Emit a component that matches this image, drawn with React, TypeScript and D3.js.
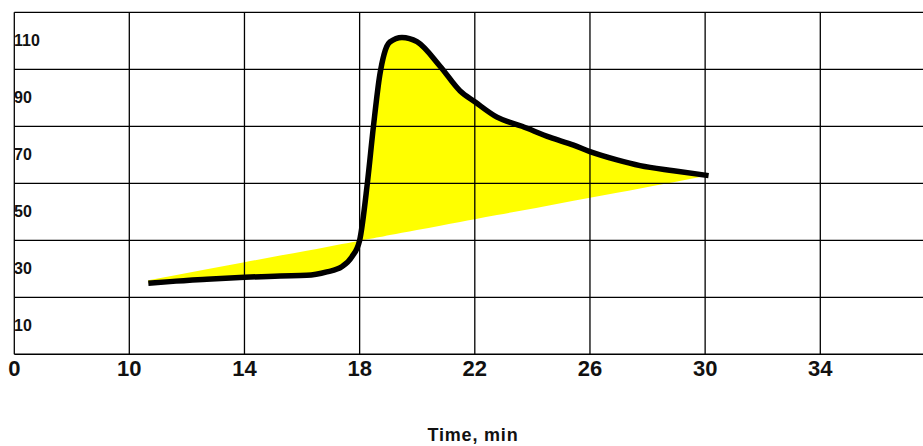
import React from "react";
import * as d3 from "d3";

// Curve (time in min, value)
const time = [10.66, 11.41, 12.69, 14.0, 15.24, 16.16, 16.86, 17.38, 17.73, 18.0, 18.27, 18.48, 18.7, 18.85, 19.05, 19.47, 19.99, 20.8, 21.49, 22.0, 22.77, 23.64, 24.62, 25.43, 26.0, 26.94, 27.74, 28.9, 30.12];
const value = [24.9, 25.5, 26.3, 27.0, 27.5, 27.7, 28.9, 30.7, 34.2, 40, 60.2, 80, 98, 105.3, 109.6, 111.2, 109.7, 101, 92.4, 88.6, 83.2, 80, 76.1, 73.4, 71.1, 68.2, 66.2, 64.4, 62.7];

// Straight baseline under the fill
const baselineTime = [10.66, 30.12];
const baselineValue = [26.0, 62.7];

// Axis ticks
const xTicks = [0, 10, 14, 18, 22, 26, 30, 34];
const yGrid = [20, 40, 60, 80, 100, 120];
const yLabels = [10, 30, 50, 70, 90, 110];
const xTitle = "Time, min";

const W = 923;
const H = 446;
const FONT = "'Liberation Sans', Arial, Helvetica, sans-serif";

export default function App() {
  const x = d3.scaleLinear().domain([0, 10, 34]).range([14.3, 129.3, 820.3]);
  const y = d3.scaleLinear().domain([0, 120]).range([354.3, 12.3]);

  const pts = time.map((t, i) => ({ t, v: value[i] }));
  const base = d3.scaleLinear().domain(baselineTime).range(baselineValue);

  const area = d3
    .area<{ t: number; v: number }>()
    .x((d) => x(d.t))
    .y0((d) => y(base(d.t)))
    .y1((d) => y(d.v))
    .curve(d3.curveMonotoneX);

  const line = d3
    .line<{ t: number; v: number }>()
    .x((d) => x(d.t))
    .y((d) => y(d.v))
    .curve(d3.curveMonotoneX);

  const x0 = x(0);
  const yTop = y(120);
  const yBot = y(0);

  return (
    <svg
      width={W}
      height={H}
      style={{ position: "absolute", left: 0, top: 0, background: "#fff" }}
      fontFamily={FONT}
    >
      <rect x={0} y={0} width={W} height={H} fill="#fff" />
      <path d={area(pts) || ""} fill="#ffff00" stroke="none" />
      {/* grid */}
      {xTicks.map((t) => (
        <line key={"vx" + t} x1={x(t)} x2={x(t)} y1={yTop} y2={yBot} stroke="#000" strokeWidth={1.3} />
      ))}
      {yGrid.map((v) => (
        <line key={"hy" + v} x1={x0} x2={W} y1={y(v)} y2={y(v)} stroke="#000" strokeWidth={1.3} />
      ))}
      <line x1={x0} x2={W} y1={yBot} y2={yBot} stroke="#000" strokeWidth={1.5} />
      {/* curve */}
      <path
        d={line(pts) || ""}
        fill="none"
        stroke="#000"
        strokeWidth={5.5}
        strokeLinejoin="round"
        strokeLinecap="butt"
      />
      {/* y labels */}
      {yLabels.map((v) => (
        <text key={"yl" + v} x={14} y={y(v) + 5.5} fontSize={16} fontWeight="bold" fill="#111">
          {v}
        </text>
      ))}
      {/* x labels */}
      {xTicks.map((t) => (
        <text key={"xl" + t} x={x(t)} y={376} fontSize={22} fontWeight="bold" textAnchor="middle" fill="#111">
          {t}
        </text>
      ))}
      <text x={473} y={441} fontSize={18} fontWeight="bold" textAnchor="middle" fill="#111" letterSpacing={0.8}>
        {xTitle}
      </text>
    </svg>
  );
}
